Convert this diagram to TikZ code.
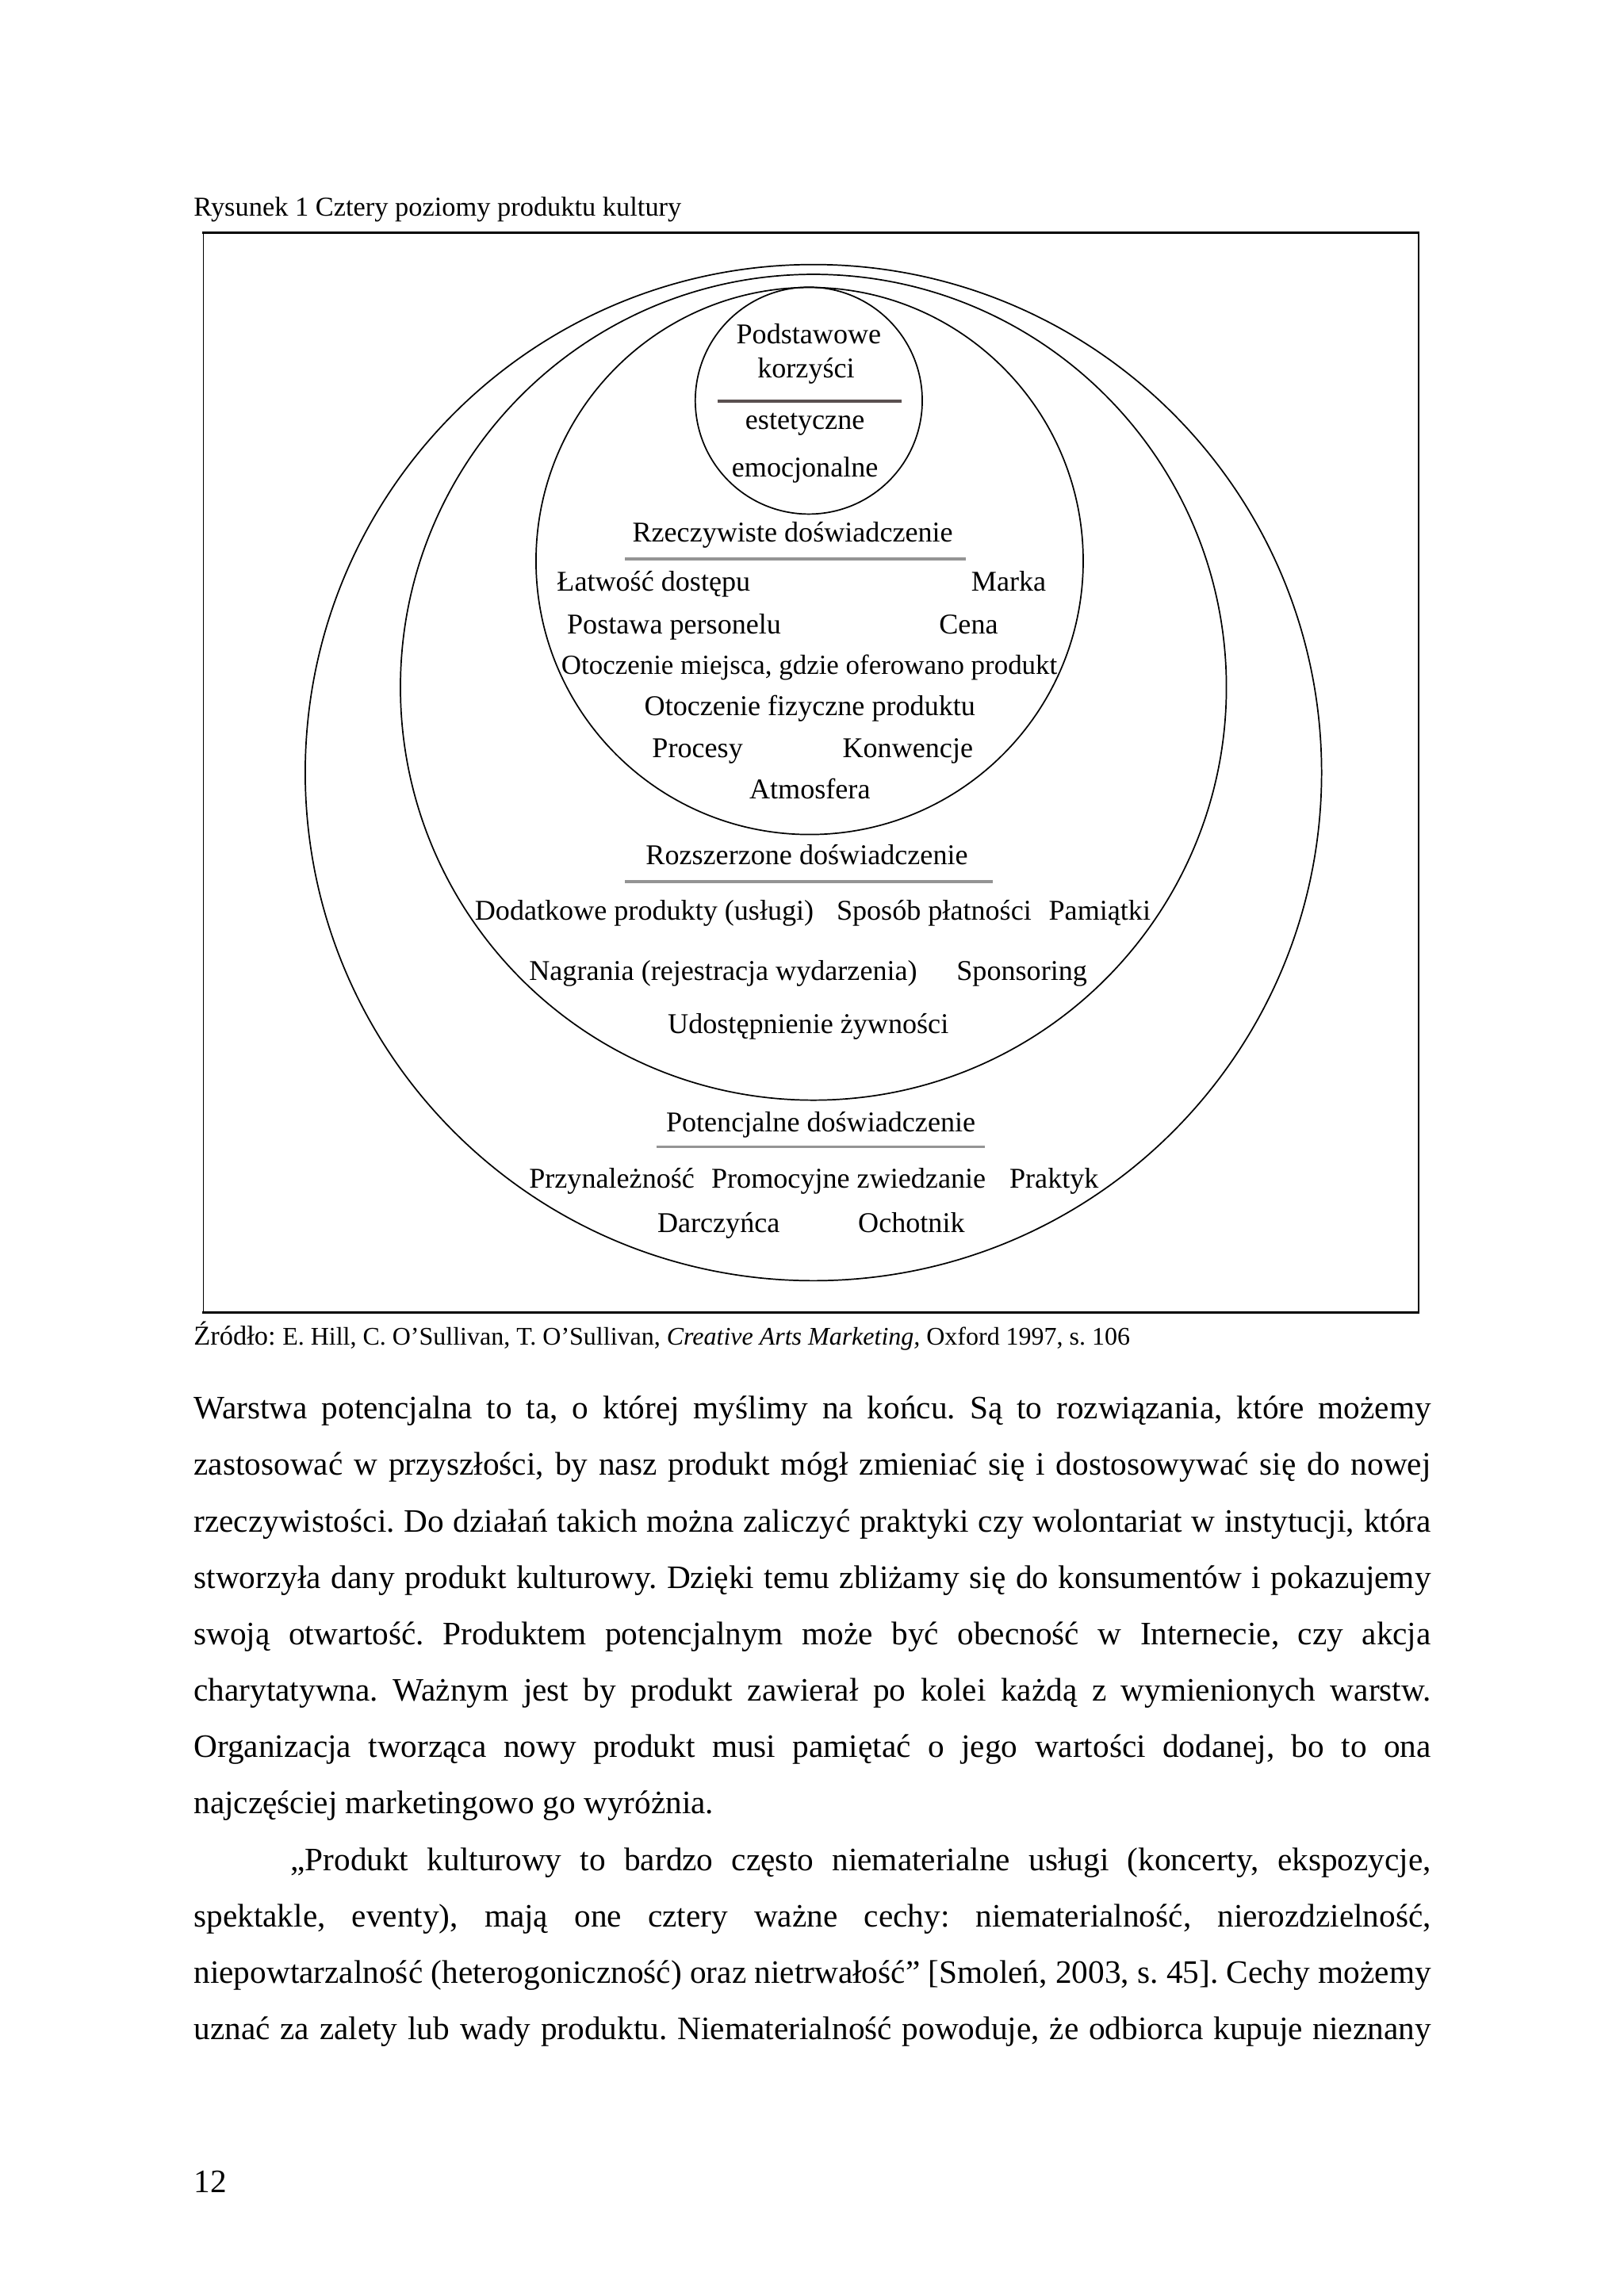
\documentclass[tikz,border=0pt]{standalone}
\usepackage{fontspec}
\setmainfont{Liberation Serif}
\begin{document}
\frenchspacing
\begin{tikzpicture}[x=1pt,y=-1pt,
  lbl/.style={inner sep=0pt, font=\fontsize{10.5}{12}\selectfont},
  lblw/.style={lbl, anchor=base west},
  lblc/.style={lbl, anchor=base},
  bodyline/.style={inner sep=0pt, anchor=base west, font=\fontsize{12}{14}\selectfont\frenchspacing},
  ring/.style={draw=black, line width=0.5pt},
  hrule/.style={line width=1.15pt, draw=black!42},
  hruledark/.style={line width=1.15pt, draw={rgb,255:red,90;green,80;blue,80}},
  smalltext/.style={inner sep=0pt, anchor=base west, font=\fontsize{10}{12}\selectfont\frenchspacing}
]
\useasboundingbox[fill=white] (0,0) rectangle (595.28,841.89);

% caption
\node[smalltext] (caption) at (70.87,79.2) {Rysunek 1 Cztery poziomy produktu kultury};

% frame
\draw[line width=0.4pt] (74.6,85.3) -- (74.6,481.3);
\draw[line width=0.4pt] (520.1,85.3) -- (520.1,481.3);
\draw[line width=0.9pt] (74.2,85.3) -- (520.5,85.3);
\draw[line width=0.9pt] (74.2,481.3) -- (520.5,481.3);

% rings
\draw[ring] (298.2,283.3) circle [radius=186.3pt];
\draw[ring] (298.2,252.0) circle [radius=151.4pt];
\draw[ring] (296.8,205.7) circle [radius=100.3pt];
\draw[ring] (296.5,146.9) circle [radius=41.6pt];

% core
\node[lblc] (podst) at (296.5,125.96) {Podstawowe};
\node[lblc] (korz) at (295.5,138.4) {korzyści};
\draw[hruledark] (263.1,147.0) -- (330.6,147.0);
\node[lblc] (estet) at (295.1,157.5) {estetyczne};
\node[lblc] (emoc) at (295.1,174.9) {emocjonalne};

% actual experience
\node[lblc] (rzecz) at (290.6,198.6) {Rzeczywiste doświadczenie};
\draw[hrule] (229.2,204.9) -- (354.2,204.9);
\node[lblw] (latw) at (204.0,216.7) {Łatwość dostępu};
\node[lblw] (marka) at (355.9,216.7) {Marka};
\node[lblw] (postawa) at (207.7,232.3) {Postawa personelu};
\node[lblw] (cena) at (344.1,232.3) {Cena};
\node[lblw, font=\fontsize{10.15}{12}\selectfont] (otocz1) at (205.6,247.3) {Otoczenie miejsca, gdzie oferowano produkt};
\node[lblc] (otocz2) at (296.9,262.4) {Otoczenie fizyczne produktu};
\node[lblw] (procesy) at (238.9,277.9) {Procesy};
\node[lblw] (konw) at (308.7,277.9) {Konwencje};
\node[lblc] (atmo) at (296.9,293.0) {Atmosfera};

% extended experience
\node[lblc] (rozsz) at (295.8,317.1) {Rozszerzone doświadczenie};
\draw[hrule] (229.2,323.2) -- (364.0,323.2);
\node[lblw] (dodat) at (173.9,337.5) {Dodatkowe produkty (usługi)};
\node[lblw] (sposob) at (306.5,337.5) {Sposób płatności};
\node[lblw] (pamiatki) at (384.3,337.5) {Pamiątki};
\node[lblw] (nagrania) at (193.8,359.5) {Nagrania (rejestracja wydarzenia)};
\node[lblw] (spons) at (350.5,359.5) {Sponsoring};
\node[lblc] (udost) at (296.3,378.9) {Udostępnienie żywności};

% potential experience
\node[lblc] (poten) at (300.9,414.9) {Potencjalne doświadczenie};
\draw[hrule] (240.6,420.5) -- (361.1,420.5);
\node[lblw] (przyn) at (193.8,435.5) {Przynależność};
\node[lblw] (promo) at (260.6,435.5) {Promocyjne zwiedzanie};
\node[lblw] (prakt) at (369.9,435.5) {Praktyk};
\node[lblw] (darcz) at (240.8,452.0) {Darczyńca};
\node[lblw] (ochot) at (314.4,452.0) {Ochotnik};

% source
\node[smalltext] (zrodlo) at (70.87,493.2) {Źródło: {\fontsize{9.3}{11}\selectfont E. Hill, C. O’Sullivan, T. O’Sullivan, \textit{Creative Arts Marketing,} Oxford 1997, s. 106}};

% body text
\node[bodyline] (l1) at (70.87,520.3) {\makebox[453.54pt][s]{Warstwa potencjalna to ta, o której myślimy na końcu. Są to rozwiązania, które możemy}};
\node[bodyline] (l2) at (70.87,540.99) {\makebox[453.54pt][s]{zastosować w przyszłości, by nasz produkt mógł zmieniać się i dostosowywać się do nowej}};
\node[bodyline] (l3) at (70.87,561.68) {\makebox[453.54pt][s]{rzeczywistości. Do działań takich można zaliczyć praktyki czy wolontariat w instytucji, która}};
\node[bodyline] (l4) at (70.87,582.37) {\makebox[453.54pt][s]{stworzyła dany produkt kulturowy. Dzięki temu zbliżamy się do konsumentów i pokazujemy}};
\node[bodyline] (l5) at (70.87,603.06) {\makebox[453.54pt][s]{swoją otwartość. Produktem potencjalnym może być obecność w Internecie, czy akcja}};
\node[bodyline] (l6) at (70.87,623.75) {\makebox[453.54pt][s]{charytatywna. Ważnym jest by produkt zawierał po kolei każdą z wymienionych warstw.}};
\node[bodyline] (l7) at (70.87,644.44) {\makebox[453.54pt][s]{Organizacja tworząca nowy produkt musi pamiętać o jego wartości dodanej, bo to ona}};
\node[bodyline] (l8) at (70.87,665.13) {najczęściej marketingowo go wyróżnia.};
\node[bodyline] (l9) at (106.3,685.82) {\makebox[418.11pt][s]{„Produkt kulturowy to bardzo często niematerialne usługi (koncerty, ekspozycje,}};
\node[bodyline] (l10) at (70.87,706.51) {\makebox[453.54pt][s]{spektakle, eventy), mają one cztery ważne cechy: niematerialność, nierozdzielność,}};
\node[bodyline] (l11) at (70.87,727.20) {\makebox[453.54pt][s]{niepowtarzalność (heterogoniczność) oraz nietrwałość” [Smoleń, 2003, s. 45]. Cechy możemy}};
\node[bodyline] (l12) at (70.87,747.89) {\makebox[453.54pt][s]{uznać za zalety lub wady produktu. Niematerialność powoduje, że odbiorca kupuje nieznany}};

% page number
\node[bodyline] (pagenum) at (70.87,803.9) {12};
\end{tikzpicture}
\end{document}
